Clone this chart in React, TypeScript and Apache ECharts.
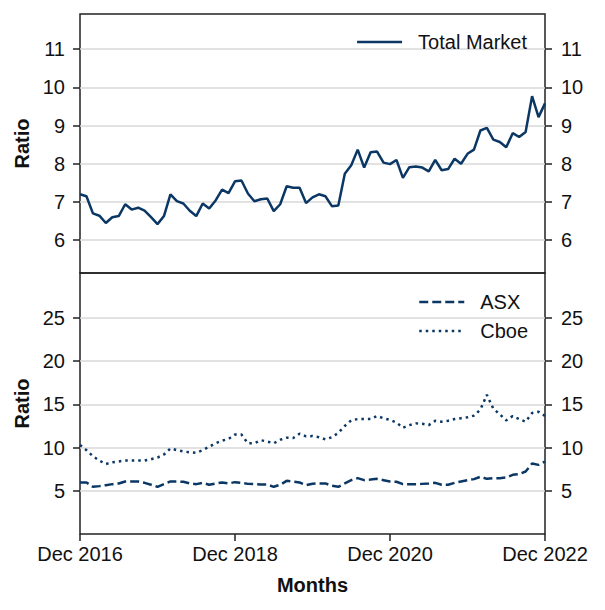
import React, { useEffect, useRef } from "react";
import * as echarts from "echarts";

const MONTH_NAMES = ["Jan", "Feb", "Mar", "Apr", "May", "Jun", "Jul", "Aug", "Sep", "Oct", "Nov", "Dec"];
const START_YEAR = 2016;
const MONTH_COUNT = 73;
const CATEGORIES: string[] = [];
for (let i = 0; i < MONTH_COUNT; i++) {
  const m = (11 + i) % 12;
  const y = START_YEAR + Math.floor((11 + i) / 12);
  CATEGORIES.push(`${MONTH_NAMES[m]} ${y}`);
}

const X_LABELS = ["Dec 2016", "Dec 2018", "Dec 2020", "Dec 2022"];
const TOP_TICKS = [6, 7, 8, 9, 10, 11];
const BOTTOM_TICKS = [5, 10, 15, 20, 25];

const TOTAL_MARKET = [
  7.2, 7.15, 6.7, 6.64, 6.45, 6.6, 6.63, 6.94, 6.8, 6.85, 6.77, 6.6, 6.42,
  6.63, 7.2, 7.02, 6.96, 6.77, 6.63, 6.96, 6.83, 7.04, 7.32, 7.23, 7.54,
  7.56, 7.22, 7.02, 7.07, 7.09, 6.76, 6.94, 7.41, 7.37, 7.37, 6.97, 7.12,
  7.2, 7.15, 6.89, 6.91, 7.74, 7.96, 8.37, 7.9, 8.3, 8.32, 8.03, 7.99,
  8.1, 7.63, 7.91, 7.93, 7.9, 7.8, 8.1, 7.83, 7.86, 8.13, 8.0, 8.26,
  8.37, 8.87, 8.94, 8.63, 8.57, 8.43, 8.8, 8.7, 8.83, 9.77, 9.22, 9.58,
];

const ASX = [
  5.96, 5.96, 5.46, 5.54, 5.65, 5.77, 5.85, 6.08, 6.08, 6.08, 5.92, 5.7, 5.46,
  5.77, 6.08, 6.08, 6.04, 5.85, 5.77, 5.92, 5.7, 5.85, 5.96, 5.85, 6.0,
  5.92, 5.8, 5.77, 5.73, 5.73, 5.46, 5.7, 6.15, 6.08, 5.96, 5.65, 5.82,
  5.85, 5.85, 5.58, 5.46, 5.85, 6.23, 6.46, 6.23, 6.3, 6.38, 6.23, 6.08,
  6.04, 5.77, 5.77, 5.77, 5.8, 5.85, 5.92, 5.7, 5.7, 5.92, 6.08, 6.23,
  6.35, 6.62, 6.38, 6.46, 6.46, 6.54, 6.85, 6.92, 7.23, 8.15, 8.0, 8.38,
];

const CBOE = [
  10.3, 9.7, 9.0, 8.5, 8.1, 8.3, 8.4, 8.5, 8.5, 8.5, 8.5, 8.65, 8.85,
  9.2, 9.9, 9.7, 9.55, 9.45, 9.4, 9.7, 10.1, 10.5, 10.8, 11.0, 11.5,
  11.5, 10.5, 10.5, 10.85, 10.7, 10.5, 10.9, 11.15, 11.1, 11.6, 11.3, 11.33,
  11.2, 10.95, 11.2, 11.7, 12.5, 13.15, 13.3, 13.3, 13.3, 13.65, 13.4, 13.2,
  12.9, 12.3, 12.6, 12.8, 12.75, 12.6, 13.1, 13.0, 13.1, 13.3, 13.4, 13.5,
  13.7, 14.4, 16.1, 14.5, 13.85, 13.15, 13.65, 13.3, 13.0, 14.0, 14.15, 13.65,
];

const LINE_COLOR = "#0a3764";
const FONT = "'Liberation Sans', Arial, sans-serif";

export default function App() {
  const ref = useRef<HTMLDivElement>(null);

  useEffect(() => {
    if (!ref.current) return;
    const chart = echarts.init(ref.current, null, { renderer: "svg" });

    const tickStyle = { show: true, length: 7, lineStyle: { color: "#222", width: 1.5 } };
    const labelStyle = { color: "#111", fontSize: 20, fontFamily: FONT };
    const gridLines = (vals: number[]) => ({
      silent: true,
      symbol: "none",
      label: { show: false },
      lineStyle: { color: "#d9d9d9", type: "solid", width: 1.5 },
      data: vals.map((v) => ({ yAxis: v })),
      z: 1,
    });

    const yAxisBase = (gridIndex: number, min: number, max: number, ticks: number[], position: string, name?: string) => ({
      type: "value",
      gridIndex,
      min,
      max,
      position,
      name: name || "",
      nameLocation: "middle",
      nameGap: 41,
      nameTextStyle: { fontSize: 20, fontWeight: "bold", fontFamily: FONT, color: "#111" },
      axisLine: { show: false },
      axisTick: { ...tickStyle, customValues: ticks },
      axisLabel: { ...labelStyle, customValues: ticks, margin: position === "left" ? 15 : 16 },
      splitLine: { show: false },
    });

    const legendBase = {
      padding: 0,
      itemWidth: 45,
      itemHeight: 20,
      itemGap: 9,
      textStyle: { fontSize: 20, fontFamily: FONT, color: "#111", padding: [0, 0, 0, 11] },
      itemStyle: { color: "transparent", borderColor: "transparent", borderWidth: 0, opacity: 0 },
      lineStyle: { width: 2.5 },
      selectedMode: false,
    };

    chart.setOption({
      animation: false,
      backgroundColor: "#fff",
      textStyle: { fontFamily: FONT },
      grid: [
        { left: 80, right: 60, top: 14, height: 259, show: true, borderColor: "#222", borderWidth: 1.5, backgroundColor: "transparent" },
        { left: 80, right: 60, top: 273, height: 261, show: true, borderColor: "#222", borderWidth: 1.5, backgroundColor: "transparent" },
      ],
      legend: [
        { ...legendBase, data: ["Total Market"], right: 78, top: 32 },
        { ...legendBase, data: ["ASX", "Cboe"], left: 418, top: 292, orient: "vertical" },
      ],
      xAxis: [
        {
          type: "category",
          gridIndex: 0,
          data: CATEGORIES,
          boundaryGap: false,
          axisLine: { show: false },
          axisTick: { show: false },
          axisLabel: { show: false },
          splitLine: { show: false },
        },
        {
          type: "category",
          gridIndex: 1,
          data: CATEGORIES,
          boundaryGap: false,
          name: "Months",
          nameLocation: "middle",
          nameGap: 41,
          nameTextStyle: { fontSize: 20, fontWeight: "bold", fontFamily: FONT, color: "#111" },
          axisLine: { show: false },
          axisTick: { ...tickStyle, interval: (_i: number, v: string) => X_LABELS.includes(v) },
          axisLabel: { ...labelStyle, margin: 10, interval: (_i: number, v: string) => X_LABELS.includes(v) },
          splitLine: { show: false },
        },
      ],
      yAxis: [
        yAxisBase(0, 5.14, 11.92, TOP_TICKS, "left", "Ratio"),
        yAxisBase(0, 5.14, 11.92, TOP_TICKS, "right"),
        yAxisBase(1, 0, 30.2, BOTTOM_TICKS, "left", "Ratio"),
        yAxisBase(1, 0, 30.2, BOTTOM_TICKS, "right"),
      ],
      series: [
        {
          name: "Total Market",
          type: "line",
          xAxisIndex: 0,
          yAxisIndex: 0,
          data: TOTAL_MARKET,
          symbol: "none",
          lineStyle: { color: LINE_COLOR, width: 2.5 },
          itemStyle: { color: LINE_COLOR },
          markLine: gridLines(TOP_TICKS),
          z: 3,
        },
        {
          name: "ASX",
          type: "line",
          xAxisIndex: 1,
          yAxisIndex: 2,
          data: ASX,
          symbol: "none",
          lineStyle: { color: LINE_COLOR, width: 2.5, type: [9, 4] },
          itemStyle: { color: LINE_COLOR },
          markLine: gridLines(BOTTOM_TICKS),
          z: 3,
        },
        {
          name: "Cboe",
          type: "line",
          xAxisIndex: 1,
          yAxisIndex: 2,
          data: CBOE,
          symbol: "none",
          lineStyle: { color: LINE_COLOR, width: 2.5, type: [2.5, 4] },
          itemStyle: { color: LINE_COLOR },
          z: 3,
        },
      ],
    });

    return () => chart.dispose();
  }, []);

  return <div ref={ref} style={{ position: "fixed", left: 0, top: 0, width: 605, height: 610 }} />;
}
